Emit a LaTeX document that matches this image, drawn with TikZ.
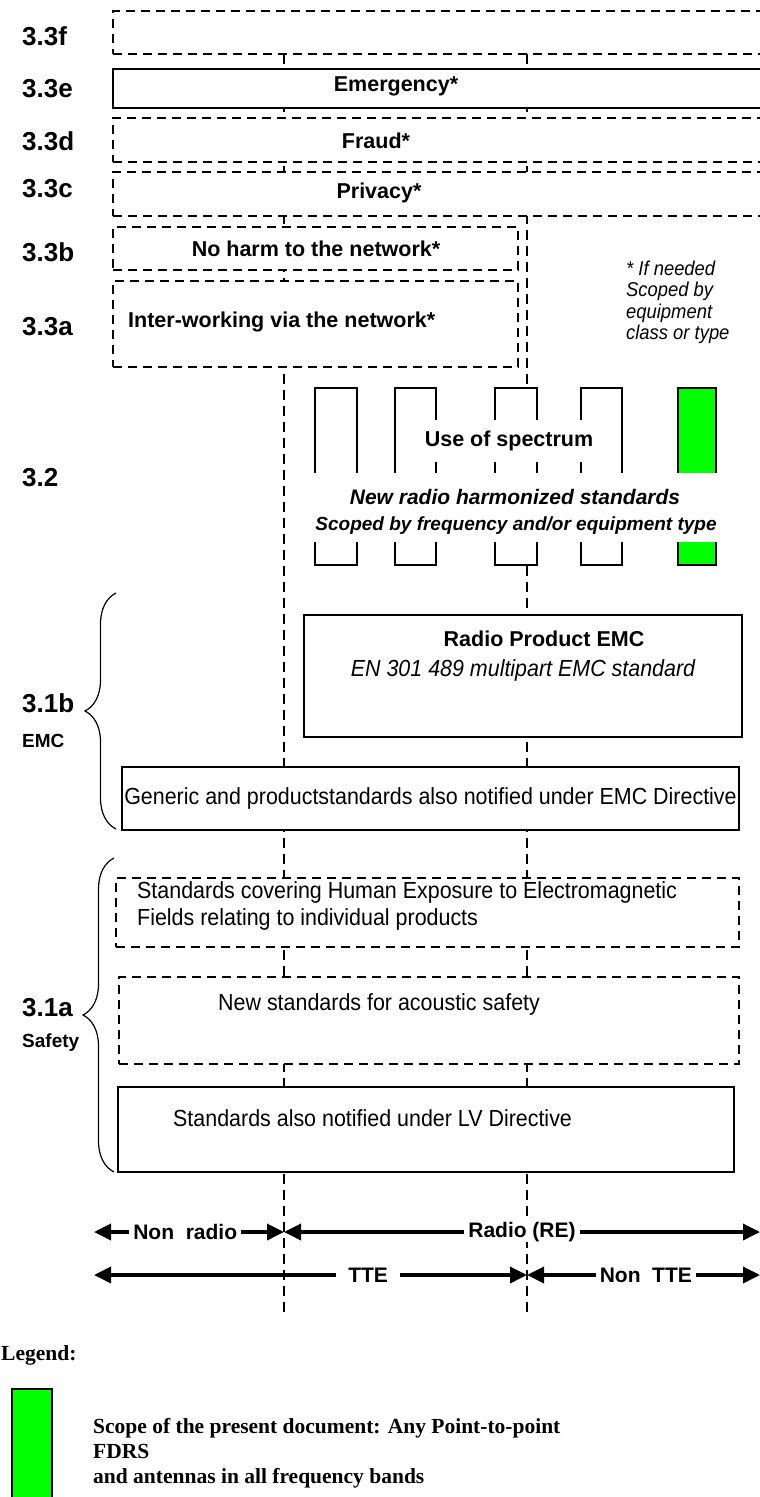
\documentclass[tikz,border=0pt]{standalone}
\usepackage{fontspec}
\setmainfont{Liberation Sans}
\newfontfamily\narrowsans[FakeStretch=0.92]{Liberation Sans}
\newfontfamily\legendfont{Liberation Serif}
\usepackage{tikz}
\usetikzlibrary{arrows.meta,decorations.pathreplacing}

\definecolor{scopegreen}{RGB}{0,255,0}

\tikzset{
	dbox/.style={draw, line width=2.8pt, dash pattern=on 9pt off 6pt, fill=white, inner sep=0pt},
	sbox/.style={draw, line width=2.8pt, fill=white, inner sep=0pt},
	vline/.style={line width=2.8pt, dash pattern=on 10pt off 6pt},
	bar/.style={draw, line width=2.8pt, fill=white, minimum height=177pt, inner sep=0pt},
	lbl/.style={anchor=west, inner sep=0pt, font=\fontsize{26}{30}\selectfont\bfseries},
	sublbl/.style={anchor=west, inner sep=0pt, font=\fontsize{19}{23}\selectfont\bfseries},
	btxt/.style={inner sep=0pt, font=\fontsize{21.5}{25}\selectfont\bfseries},
	rtxt/.style={inner sep=0pt, font=\fontsize{23.3}{27}\selectfont\narrowsans},
	itxt/.style={inner sep=0pt, font=\fontsize{23.3}{27}\selectfont\narrowsans\itshape},
	bitxt/.style={inner sep=0pt, font=\fontsize{21}{25}\selectfont\bfseries\itshape},
	note/.style={anchor=north west, inner sep=0pt, align=left, font=\fontsize{20}{21.3}\selectfont\narrowsans\itshape},
	dimarrow/.style={line width=3.5pt, {Triangle[length=17pt,width=16pt]}-{Triangle[length=17pt,width=16pt]}},
	arrlbl/.style={fill=white, inner ysep=0pt, inner xsep=4pt, font=\fontsize{21}{25}\selectfont\bfseries},
	brc/.style={line width=1.2pt, decorate, decoration={brace, amplitude=31pt}},
	legtxt/.style={inner sep=0pt, align=left, font=\fontsize{21.5}{25}\selectfont\legendfont\bfseries},
}

\begin{document}
\begin{tikzpicture}[x=1pt,y=-1pt]
	\useasboundingbox (0,0) rectangle (760,1497);
	\clip (0,0) rectangle (760,1497);
	%
	\coordinate (nrtop) at (284,54);
	\coordinate (nrbot) at (284,1312);
	\coordinate (ttetop) at (527,54);
	\coordinate (ttebot) at (527,1312);
	\draw [vline] (nrtop) -- (nrbot);
	\draw [vline] (ttetop) -- (ttebot);
	%
	\node [dbox, minimum width=657pt, minimum height=43pt] (f) at (441.5,32.5) {};
	\node [sbox, minimum width=657pt, minimum height=39pt] (e) at (441.5,88.5) {};
	\node [dbox, minimum width=657pt, minimum height=44pt] (d) at (441.5,140) {};
	\node [dbox, minimum width=657pt, minimum height=44pt] (c) at (441.5,194) {};
	\node [dbox, minimum width=405pt, minimum height=43pt] (b) at (315.5,248.5) {};
	\node [dbox, minimum width=405pt, minimum height=86pt] (a) at (315.5,324) {};
	%
	\node [btxt] (emerg) at (396,86) {Emergency*};
	\node [btxt] (fraud) at (376,141) {Fraud*};
	\node [btxt] (priv) at (379,193) {Privacy*};
	\node [btxt] (harm) at (316,249) {No harm to the network*};
	\node [btxt, anchor=west] (inter) at (128,322) {Inter-working via the network*};
	\node [note] (needed) at (626,261) {* If needed\\Scoped by\\equipment\\class or type};
	%
	\node [bar, minimum width=42pt] (b1) at (336,476.5) {};
	\node [bar, minimum width=41pt] (b2) at (415.5,476.5) {};
	\node [bar, minimum width=42pt] (b3) at (516,476.5) {};
	\node [bar, minimum width=41pt] (b4) at (601.5,476.5) {};
	\node [bar, minimum width=38pt, fill=scopegreen] (b5) at (697,476.5) {};
	\fill [white] (305,473) rectangle (740,542);
	\node [btxt, fill=white, minimum height=42pt, inner xsep=3pt] (spec) at (509,441) {Use of spectrum};
	\node [bitxt] (nrhs) at (515,497) {New radio harmonized standards};
	\node [bitxt, font=\fontsize{19}{23}\selectfont\bfseries\itshape] (scoped) at (516,526) {Scoped by frequency and/or equipment type};
	%
	\node [sbox, minimum width=438pt, minimum height=122pt] (rpemc) at (523,676) {};
	\node [btxt] (rpemct) at (544,639) {Radio Product EMC};
	\node [itxt] (en) at (523,670) {EN 301 489 multipart EMC standard};
	\node [sbox, minimum width=617pt, minimum height=63pt, font=\fontsize{23.3}{27}\selectfont\narrowsans] (gen) at (430.5,798.5) {Generic and productstandards also notified under EMC Directive};
	%
	\node [dbox, minimum width=623pt, minimum height=69pt] (hum) at (427.5,912.5) {};
	\node [rtxt, anchor=west, align=left] (humt) at (137,906) {Standards covering Human Exposure to Electromagnetic\\Fields relating to individual products};
	\node [dbox, minimum width=620pt, minimum height=87pt] (acou) at (429,1020.5) {};
	\node [rtxt, anchor=west] (acout) at (218,1004) {New standards for acoustic safety};
	\node [sbox, minimum width=616pt, minimum height=85pt] (lv) at (426,1129.5) {};
	\node [rtxt, anchor=west] (lvt) at (173,1118) {Standards also notified under LV Directive};
	%
	\node [lbl] (l3f) at (22,36) {3.3f};
	\node [lbl] (l3e) at (22,89) {3.3e};
	\node [lbl] (l3d) at (22,141) {3.3d};
	\node [lbl] (l3c) at (22,189) {3.3c};
	\node [lbl] (l3b) at (22,252) {3.3b};
	\node [lbl] (l3a) at (22,327) {3.3a};
	\node [lbl] (l32) at (22,478) {3.2};
	\node [lbl] (l31b) at (22,703) {3.1b};
	\node [sublbl] (lemc) at (22,741) {EMC};
	\node [lbl] (l31a) at (22,1008) {3.1a};
	\node [sublbl] (lsaf) at (22,1043) {Safety};
	%
	\draw [brc] (116,829) -- (116,593);
	\draw [brc] (114,1172) -- (114,858);
	%
	\coordinate (r1a) at (94,1232);
	\coordinate (r1b) at (284,1232);
	\coordinate (r1c) at (760,1232);
	\coordinate (r2a) at (94,1275);
	\coordinate (r2b) at (527,1275);
	\coordinate (r2c) at (760,1275);
	\draw [dimarrow] (r1a) -- node[arrlbl, pos=0.48]{Non\ \ radio} (r1b);
	\draw [dimarrow] (r1b) -- node[arrlbl]{Radio (RE)} (r1c);
	\draw [dimarrow] (r2a) -- node[arrlbl, pos=0.633, inner xsep=12pt]{TTE} (r2b);
	\draw [dimarrow] (r2b) -- node[arrlbl, pos=0.51]{Non\ \ TTE} (r2c);
	%
	\node [legtxt, anchor=west] (leg) at (1,1355) {Legend:};
	\node [draw, line width=2pt, fill=scopegreen, minimum width=40pt, minimum height=131pt] (legbox) at (32,1454.5) {};
	\node [legtxt, anchor=north west] (legt) at (93,1418) {Scope of the present document: Any Point-to-point\\FDRS\\and antennas in all frequency bands};
\end{tikzpicture}
\end{document}
